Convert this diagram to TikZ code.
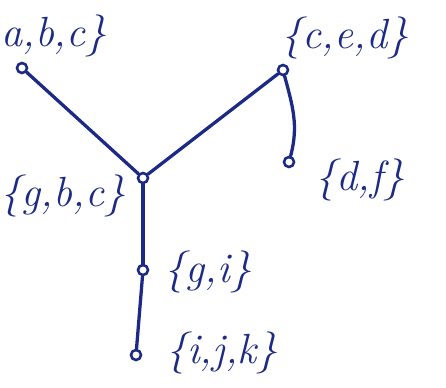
\documentclass[tikz,border=0pt]{standalone}
\usepackage{xcolor}
\usepackage{tikz}
\usetikzlibrary{
  arrows.meta,
  positioning,
  calc
}
\definecolor{inkBlue}{HTML}{1C2A86}
\tikzset{
  vertex/.style={
    draw=inkBlue, circle, fill=white, line width=2.2pt,
    inner sep=0pt, minimum size=3mm
  },
  bag/.style={
    text=inkBlue, font=\fontsize{36}{40}\selectfont\itshape, inner sep=1pt
  },
  treeline/.style={draw=inkBlue, line width=2.8pt, line cap=round}
}

\begin{document}
\begin{tikzpicture}[x=0.03cm, y=-0.03cm]
  \useasboundingbox (0,0) rectangle (446,387);
  % vertices of the tree
  \node[vertex] (abc) at (22,68) {};
  \node[vertex] (ced) at (283,70) {};
  \node[vertex] (gbc) at (143,178) {};
  \node[vertex] (df) at (289,162) {};
  \node[vertex] (gi) at (143,270) {};
  \node[vertex] (ijk) at (136,355) {};
  % bags
  \node[bag] (labc) at (54,36) {a,b,c\}};
  \node[bag] (lced) at (345,38) {\{c,e,d\}};
  \node[bag] (ldf) at (360,180) {\{d,f\}};
  \node[bag] (lgbc) at (63,196) {\{g,b,c\}};
  \node[bag] (lgi) at (208,272) {\{g,i\}};
  \node[bag] (lijk) at (222,353) {\{i,j,k\}};
  % edges
  \begin{scope}[on background layer/.try]
    \path[treeline] (abc) -- (gbc);
    \path[treeline] (gbc) -- (ced);
    \path[treeline] (ced) to[out=-75, in=75] (df);
    \path[treeline] (gbc) -- (gi);
    \path[treeline] (gi) -- (ijk);
  \end{scope}
\end{tikzpicture}
\end{document}
